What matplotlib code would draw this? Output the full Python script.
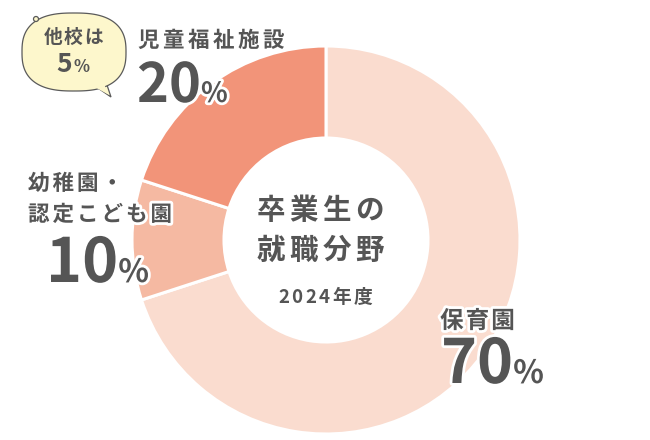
import matplotlib
matplotlib.use('Agg')
import numpy as np
import matplotlib.pyplot as plt
import matplotlib.patheffects as pe
from matplotlib.patches import Polygon, Circle

plt.rcParams['font.family'] = ['Noto Sans CJK JP', 'DejaVu Sans']

# data
labels = ['保育園', '幼稚園・認定こども園', '児童福祉施設']
values = [70, 10, 20]
colors = ['#fadccf', '#f5b9a2', '#f29479']
other_label = '他校は'
other_value = 5
title_lines = ['卒業生の', '就職分野']
year_label = '2024年度'

TXT = '#555555'
W, H = 650, 440

fig = plt.figure(figsize=(6.5, 4.4), dpi=100)
ax = fig.add_axes([0, 0, 1, 1])

ax.pie(values, colors=colors, startangle=90, counterclock=False,
       center=(326, H - 240), radius=194, frame=True,
       wedgeprops=dict(width=92, edgecolor='white', linewidth=2.2))
ax.set_xlim(0, W)
ax.set_ylim(0, H)
ax.set_aspect('equal')
ax.axis('off')

renderer = fig.canvas.get_renderer()


def draw_line(x, y, parts, ha='left', stroke=False):
    # parts: (text, size, weight, gap in px)
    arts = []
    for s, size, weight, gap in parts:
        for ch in s:
            t = ax.text(0, H - y, ch, fontsize=size, fontweight=weight,
                        color=TXT, va='baseline', ha='left', zorder=5)
            if stroke:
                t.set_path_effects([pe.withStroke(linewidth=4, foreground='white')])
            w = t.get_window_extent(renderer).width
            arts.append((t, w, gap))
    total = sum(w + g for _, w, g in arts) - arts[-1][2]
    pos = x - total / 2 if ha == 'center' else x
    for t, w, g in arts:
        t.set_x(pos)
        pos += w + g


# speech bubble (rounded blob + tail)
th = np.linspace(0, 2 * np.pi, 200)
n = 2.6
bx = 74 + 52 * np.sign(np.cos(th)) * np.abs(np.cos(th)) ** (2 / n)
by = (H - 52) + 39 * np.sign(np.sin(th)) * np.abs(np.sin(th)) ** (2 / n)
ax.add_patch(Polygon([(92, H - 84), (111, H - 97), (106, H - 82)], closed=True,
                     facecolor='#fdf7cc', edgecolor='#5a5a5a', linewidth=0.9, zorder=2))
ax.add_patch(Polygon(np.column_stack([bx, by]), closed=True, facecolor='#fdf7cc',
                     edgecolor='#5a5a5a', linewidth=0.9, zorder=3))
ax.add_patch(Polygon([(93, H - 86), (109, H - 95), (104, H - 84)], closed=True,
                     facecolor='#fdf7cc', edgecolor='none', zorder=4))
ax.add_patch(Circle((36, H - 19), 2.5, facecolor='#fdf7cc', edgecolor='#5a5a5a',
                    linewidth=0.9, zorder=4))
draw_line(73, 43, [(other_label, 13.5, 'bold', 1.5)], ha='center')
draw_line(73, 72, [(str(other_value), 19, 'bold', 1), ('%', 12, 'bold', 0)], ha='center')

# labels
draw_line(138, 47, [(labels[2], 15.5, 'bold', 3.5)], stroke=True)
draw_line(137, 102, [(str(values[2]), 39, 'bold', 0), ('%', 20, 'bold', 0)], stroke=True)

draw_line(28, 190, [('幼稚園・', 15.5, 'bold', 3)], stroke=True)
draw_line(28, 221, [('認定こども園', 15.5, 'bold', 3)], stroke=True)
draw_line(46, 282, [(str(values[1]), 44, 'bold', 0), ('%', 23, 'bold', 0)], stroke=True)

draw_line(440, 328, [(labels[0], 17, 'bold', 2)], stroke=True)
draw_line(441, 383, [(str(values[0]), 44, 'bold', 0), ('%', 23, 'bold', 0)], stroke=True)

# centre
draw_line(320, 219, [(title_lines[0], 20.5, 'bold', 4.5)], ha='center')
draw_line(320, 259, [(title_lines[1], 20.5, 'bold', 4.5)], ha='center')
draw_line(325, 303, [(year_label, 13.5, 'bold', 2.5)], ha='center')

fig.savefig('out.png', dpi=100, facecolor='white')
